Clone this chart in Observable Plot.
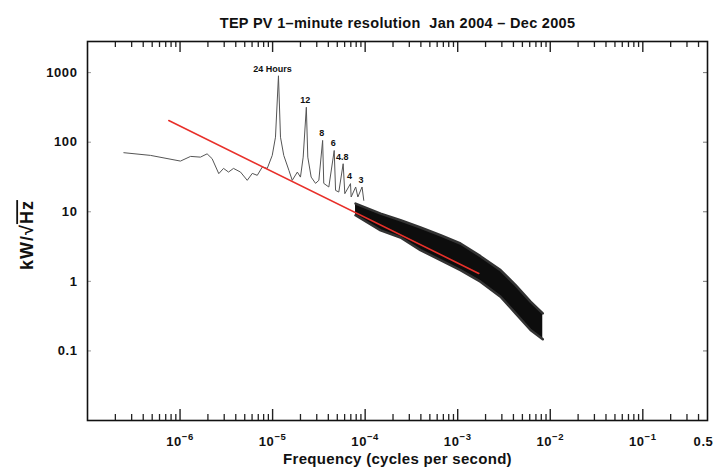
<!DOCTYPE html>
<html><head><meta charset="utf-8">
<script src="https://cdn.jsdelivr.net/npm/d3@7"></script>
<script src="https://cdn.jsdelivr.net/npm/@observablehq/plot@0.6"></script>
<style>
html,body{margin:0;padding:0;background:#fff;}
</style></head><body><div id="chart"></div>
<script>
// ---------- text ----------
const titleText = "TEP PV 1\u2013minute resolution  Jan 2004 \u2013 Dec 2005";
const xLabelText = "Frequency (cycles per second)";
const yLabelText = "kW/\u221AHz";

// ---------- low-frequency trace with diurnal harmonics (Hz, kW/√Hz) ----------
const traceFreq = [2.47e-7, 4.8e-7, 1.01e-6, 1.30e-6, 1.66e-6, 1.96e-6, 2.22e-6, 2.62e-6, 2.95e-6, 3.34e-6,
  3.78e-6, 4.50e-6, 5.32e-6, 6.03e-6, 6.83e-6, 7.73e-6, 8.75e-6, 9.91e-6, 1.074e-5, 1.157e-5,
  1.217e-5, 1.32e-5, 1.50e-5, 1.63e-5, 1.85e-5, 2.00e-5, 2.14e-5, 2.315e-5, 2.40e-5, 2.61e-5,
  2.91e-5, 3.16e-5, 3.472e-5, 3.57e-5, 4.05e-5, 4.63e-5, 4.79e-5, 5.19e-5, 5.787e-5, 6.03e-5,
  6.944e-5, 7.06e-5, 7.9e-5, 8.34e-5, 9.259e-5, 9.66e-5];
const traceAmp = [70.6, 64.6, 53.5, 62.5, 61, 68, 58, 35.3, 42, 37.2,
  42, 37.2, 28.3, 35.6, 33.4, 43.9, 42, 64.6, 118, 900,
  118, 64.6, 39.4, 28.3, 37.2, 31.5, 61, 318, 61, 31.5,
  25.6, 28.3, 106, 25.6, 22.7, 76, 20.3, 19.2, 49, 18.2,
  25.4, 16.3, 22.7, 16.3, 22.7, 14.6];

// ---------- broadband noise envelope ----------
const bandFreq  = [7.87e-5, 1.47e-4, 2.41e-4, 3.96e-4, 6.52e-4, 1.07e-3, 1.76e-3, 2.90e-3, 4.22e-3, 6.12e-3, 8.3e-3];
const bandUpper = [13.1, 9.4, 7.55, 5.94, 4.60, 3.50, 2.30, 1.45, 0.88, 0.51, 0.347];
const bandLower = [8.9, 5.4, 4.27, 2.81, 2.02, 1.45, 0.99, 0.60, 0.347, 0.20, 0.147];

// ---------- power-law fit ----------
const fitFreq = [7.55e-7, 1.69e-3];
const fitAmp  = [205, 1.30];

// ---------- harmonic labels ----------
const peakLabels = ["24 Hours", "12", "8", "6", "4.8", "4", "3"];
const peakFreq   = [1.157e-5, 2.315e-5, 3.472e-5, 4.63e-5, 5.787e-5, 6.944e-5, 9.259e-5];
const peakAmp    = [900, 318, 106, 76, 49, 25.4, 22.7];

// ---------- ticks ----------
const xMajorTicks = [1e-6, 1e-5, 1e-4, 1e-3, 1e-2, 1e-1, 0.5];
const xTickLabels = ["10^\u22126", "10^\u22125", "10^\u22124", "10^\u22123", "10^\u22122", "10^\u22121", "0.5"];
const yTicks = [0.1, 1, 10, 100, 1000];
const yTickLabels = ["0.1", "1", "10", "100", "1000"];

// ---------- layout ----------
const W = 715, H = 470, mL = 87, mR = 8, mT = 41, mB = 50;
const fw = W - mL - mR, fh = H - mT - mB;
const xDomain = [1e-7, 0.5], yDomain = [0.01, 2800];

const trace = traceFreq.map((f, i) => ({f, a: traceAmp[i]}));
const band = bandFreq.map((f, i) => ({f, hi: bandUpper[i], lo: bandLower[i]}));
const fit = fitFreq.map((f, i) => ({f, a: fitAmp[i]}));
const peaks = peakLabels.map((t, i) => ({t, f: peakFreq[i], a: peakAmp[i]}));
const xLabels = xMajorTicks.map((f, i) => ({f, t: xTickLabels[i]}));
const allLogTicks = d3.scaleLog().domain(xDomain).ticks().filter(d => d > xDomain[0] * 1.0001 && d < xDomain[1] * 0.9999);
const isMajor = d => xMajorTicks.some(m => Math.abs(m - d) / m < 1e-6);
const minorTicks = allLogTicks.filter(d => !isMajor(d));
const majorInner = xMajorTicks.filter(d => d < xDomain[1] * 0.9999);

const tickFont = {fontSize: 13, fontWeight: "bold", fill: "#111"};

const plot = Plot.plot({
  width: W, height: H,
  marginLeft: mL, marginRight: mR, marginTop: mT, marginBottom: mB,
  style: {fontFamily: "'Liberation Sans', Arial, sans-serif", background: "#fff", color: "#111"},
  x: {type: "log", domain: xDomain, axis: null},
  y: {type: "log", domain: yDomain},
  marks: [
    // faint decade ticks on y
    Plot.ruleY(yTicks, {insetRight: fw - 4, stroke: "#999", strokeWidth: 1}),
    Plot.ruleY(yTicks, {insetLeft: fw - 4, stroke: "#777", strokeWidth: 1}),
    // x ticks bottom and top, inward
    Plot.ruleX(minorTicks, {insetTop: fh - 6, stroke: "#222", strokeWidth: 1.3}),
    Plot.ruleX(majorInner, {insetTop: fh - 11, stroke: "#222", strokeWidth: 1.4}),
    Plot.ruleX(minorTicks, {insetBottom: fh - 6, stroke: "#222", strokeWidth: 1.3}),
    Plot.ruleX(majorInner, {insetBottom: fh - 11, stroke: "#222", strokeWidth: 1.4}),
    // spectrum
    Plot.line(trace, {x: "f", y: "a", stroke: "#555", strokeWidth: 1}),
    Plot.areaY(band, {x: "f", y1: "lo", y2: "hi", fill: "#0d0d0d"}),
    Plot.line(band, {x: "f", y: "hi", stroke: "#333", strokeWidth: 2.5}),
    Plot.line(band, {x: "f", y: "lo", stroke: "#333", strokeWidth: 2.5}),
    Plot.line(fit, {x: "f", y: "a", stroke: "#e8302a", strokeWidth: 1.6}),
    // peak labels
    Plot.text(peaks.slice(0, 1), {x: "f", y: "a", text: "t", dx: -6, dy: -7, fontSize: 9, fontWeight: "bold", fill: "#111"}),
    Plot.text(peaks.slice(1), {x: "f", y: "a", text: "t", dx: -1, dy: -7, fontSize: 9, fontWeight: "bold", fill: "#111"}),
    // frame
    Plot.frame({stroke: "#111", strokeWidth: 1.6}),
    // x tick labels (drawn as text so that the domain-end 0.5 label is kept)
    Plot.text(xLabels.slice(0, 6), {x: "f", text: "t", frameAnchor: "bottom", lineAnchor: "top", dy: 16, ...tickFont}),
    Plot.text(xLabels.slice(6), {x: "f", text: "t", frameAnchor: "bottom", lineAnchor: "top", dy: 16, dx: -4, ...tickFont}),
    Plot.axisY(yTicks, {tickSize: 0, tickPadding: 10, label: null, ...tickFont,
      tickFormat: d => yTickLabels[yTicks.indexOf(d)]}),
    // titles
    Plot.text([titleText], {frameAnchor: "top", dy: -24, fontSize: 14.5, fontWeight: "bold"}),
    Plot.text([xLabelText], {frameAnchor: "bottom", dy: 43, fontSize: 15, fontWeight: "bold"}),
    Plot.text([yLabelText], {frameAnchor: "left", textAnchor: "middle", dx: -60, dy: 4, rotate: -90, fontSize: 18, fontWeight: "bold"})
  ]
});

const svg = d3.select(plot);
const allText = svg.selectAll("text");
allText.filter(function() { return xTickLabels.includes(this.textContent) || yTickLabels.includes(this.textContent); })
  .style("letter-spacing", "0.6px");
allText.filter(function() { return this.textContent === titleText || this.textContent === xLabelText; })
  .style("letter-spacing", "0.3px");
// superscript exponents
allText.filter(function() { return this.textContent.includes("^"); }).each(function() {
  const t = d3.select(this);
  const [base, exp] = this.textContent.split("^");
  t.text(null);
  t.append("tspan").text(base);
  t.append("tspan").attr("dy", "-6").attr("font-size", "9.5px").text(exp);
});
// radical with overline
allText.filter(function() { return this.textContent === yLabelText; }).each(function() {
  const t = d3.select(this);
  t.text(null);
  t.style("letter-spacing", "1px");
  t.append("tspan").text("kW/\u221A");
  t.append("tspan").style("text-decoration", "overline").text("Hz");
});
document.getElementById("chart").appendChild(plot);
</script>
</body></html>
